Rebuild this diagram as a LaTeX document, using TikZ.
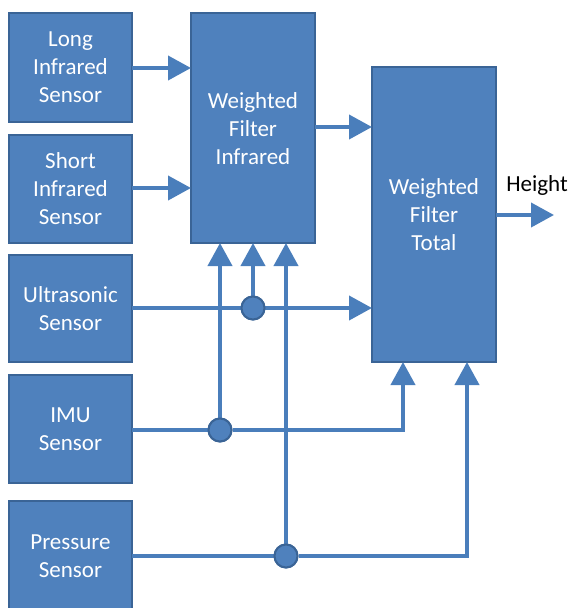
\documentclass[tikz,border=0pt]{standalone}
\usepackage{fontspec}
\setmainfont{Carlito}
\usetikzlibrary{arrows.meta}
\definecolor{boxfill}{HTML}{4F81BD}
\definecolor{boxedge}{HTML}{3A6496}
\definecolor{wire}{HTML}{4A7EBB}
\begin{document}
\begin{tikzpicture}[x=1pt,y=-1pt,
  lbl/.style={align=center, font=\fontsize{23}{28}\selectfont},
  box/.style={lbl, draw=boxedge, fill=boxfill, line width=2.5pt, inner sep=0pt, outer sep=0pt,
    text=white},
  wireline/.style={draw=wire, line width=4pt},
  arr/.style={wireline, -{Triangle[length=23pt,width=24pt]}},
  junc/.style={circle, draw=boxedge, fill=boxfill, line width=2pt, minimum size=23pt, inner sep=0pt}]
\useasboundingbox (0,0) rectangle (571,608);
% sensor boxes
\node[box, minimum width=123pt, minimum height=109pt] (long) at (70.5,67.5) {Long\\Infrared\\Sensor};
\node[box, minimum width=123pt, minimum height=108pt] (short) at (70.5,189) {Short\\Infrared\\Sensor};
\node[box, minimum width=123pt, minimum height=107pt] (ultra) at (70.5,308.5) {Ultrasonic\\Sensor};
\node[box, minimum width=123pt, minimum height=108pt] (imu) at (70.5,429) {IMU\\Sensor};
\node[box, minimum width=123pt, minimum height=116pt] (press) at (70.5,559) {};
\node[lbl, text=white] (presst) at (70.5,556) {Pressure\\Sensor};
% filters
\node[box, minimum width=124pt, minimum height=230pt] (wfi) at (253,128) {};
\node[lbl, text=white] (wfit) at (253,129) {Weighted\\Filter\\Infrared};
\node[box, minimum width=124pt, minimum height=295pt] (wft) at (434,214.5) {Weighted\\Filter\\Total};
% junctions
\node[junc] (ju) at (253,308) {};
\node[junc] (ji) at (220,430) {};
\node[junc] (jp) at (286,556) {};
\coordinate (ci) at (403,430);
\coordinate (cp) at (467,556);
\coordinate (hend) at (554,215);
% connectors
\draw[arr] (long.east |- 0,68) -- (wfi.west |- 0,68);
\draw[arr] (short.east |- 0,188) -- (wfi.west |- 0,188);
\draw[arr] (wfi.east |- 0,127) -- (wft.west |- 0,127);
\draw[arr] (ultra.east |- ju) -- (wft.west |- ju);
\draw[wireline] (imu.east |- ji) -- (ji);
\draw[arr] (ji) -- (ci) -- (ci |- wft.south);
\draw[wireline] (press.east |- jp) -- (jp);
\draw[arr] (jp) -- (cp) -- (cp |- wft.south);
\draw[arr] (ji) -- (ji |- wfi.south);
\draw[arr] (ju) -- (ju |- wfi.south);
\draw[arr] (jp) -- (jp |- wfi.south);
\draw[arr] (wft.east |- hend) -- (hend);
\node[lbl, text=black] (hlabel) at (537,185) {Height};
% junction circles on top
\node[junc] at (ju) {};
\node[junc] at (ji) {};
\node[junc] at (jp) {};
\end{tikzpicture}
\end{document}
